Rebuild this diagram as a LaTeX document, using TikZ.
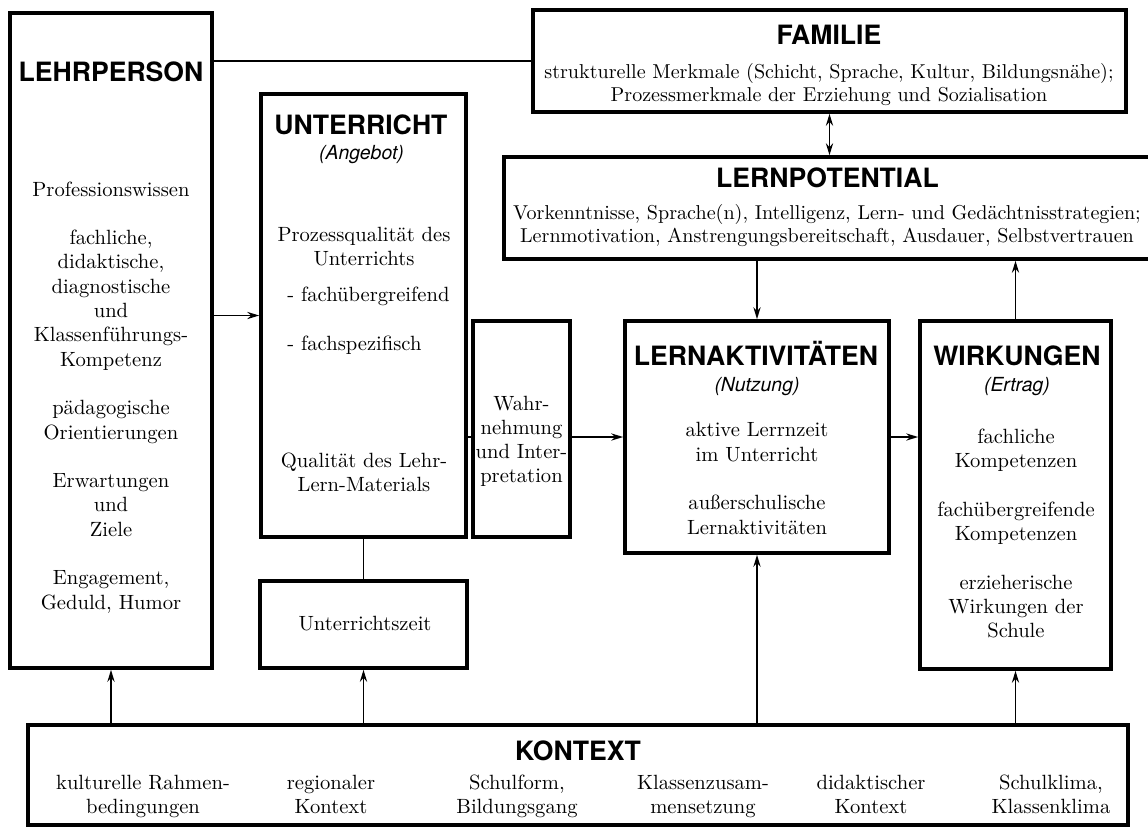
\documentclass[tikz,border=0pt]{standalone}
\usepackage{fontspec}
\newfontfamily\headfont{TeX Gyre Heros}
\usetikzlibrary{arrows.meta,positioning}

\tikzset{
  box/.style={draw, line width=1.8pt, inner sep=0pt},
  hd/.style={font=\headfont\bfseries\fontsize{13.3}{16}\selectfont, inner sep=0pt, anchor=base},
  subhd/.style={font=\headfont\itshape\fontsize{9.7}{12}\selectfont, inner sep=0pt},
  txt/.style={font=\fontsize{10.3}{12.15}\selectfont, align=center, inner sep=0pt,
    execute at begin node=\strut, execute at end node=\strut},
  widetxt/.style={txt, font=\fontsize{10.05}{11.9}\selectfont},
  conn/.style={line width=0.9pt},
}

\begin{document}
\begin{tikzpicture}[x=0.5pt, y=-0.5pt, >={Stealth[length=6pt,width=3.6pt,inset=2pt]}]
    \useasboundingbox (0,0) rectangle (1148,827);

    % boxes
    \node[box, minimum width=101pt, minimum height=327.5pt] (lehr) at (111,340.5) {};
    \node[box, minimum width=102.5pt, minimum height=221.5pt] (unt) at (363.5,315.5) {};
    \node[box, minimum width=48.5pt, minimum height=108pt] (wahr) at (521.5,429) {};
    \node[box, minimum width=103.5pt, minimum height=43.5pt] (uzeit) at (363.5,624.5) {};
    \node[box, minimum width=296.5pt, minimum height=51pt] (fam) at (829.5,61) {};
    \node[box, minimum width=325.5pt, minimum height=51pt] (pot) at (829.5,208) {};
    \node[box, minimum width=132pt, minimum height=116pt] (lakt) at (757,437) {};
    \node[box, minimum width=95.5pt, minimum height=174pt] (wirk) at (1015.5,495) {};
    \node[box, minimum width=550pt, minimum height=50pt] (kon) at (578,775) {};

    % Lehrperson
    \node[hd] (lehrT) at (111,81.5) {LEHRPERSON};
    \node[txt] (lehrB) at (111,399) {Professionswissen\\[12.15pt]
        fachliche,\\didaktische,\\diagnostische\\und\\Klassenführungs-\\Kompetenz\\[12.15pt]
        pädagogische\\Orientierungen\\[12.15pt]
        Erwartungen\\und\\Ziele\\[12.15pt]
        Engagement,\\Geduld, Humor};

    % Unterricht
    \node[hd] (untT) at (361,134.6) {UNTERRICHT};
    \node[subhd] (untS) at (361.5,155) {(Angebot)};
    \node[txt] (untB) at (364,250) {Prozessqualität des\\Unterrichts};
    \node[txt, anchor=base west] (untF1) at (287,301.5) {- fachübergreifend};
    \node[txt, anchor=base west] (untF2) at (287,350.5) {- fachspezifisch};
    \node[txt] (untQ) at (364,476) {Qualität des Lehr-\\Lern-Materials};
    \node[txt] (uzeitT) at (365,626) {Unterrichtszeit};
    \node[txt] (wahrT) at (521.5,443) {Wahr-\\nehmung\\und Inter-\\pretation};

    % Familie, Lernpotential
    \node[hd] (famT) at (829,44.6) {FAMILIE};
    \node[widetxt] (famB) at (829,86) {strukturelle Merkmale (Schicht, Sprache, Kultur, Bildungsnähe);\\
        Prozessmerkmale der Erziehung und Sozialisation};
    \node[hd] (potT) at (827.5,187.6) {LERNPOTENTIAL};
    \node[widetxt] (potB) at (827,227) {Vorkenntnisse, Sprache(n), Intelligenz, Lern- und Gedächtnisstrategien;\\
        Lernmotivation, Anstrengungsbereitschaft, Ausdauer, Selbstvertrauen};

    % Lernaktivitaeten, Wirkungen
    \node[hd] (laktT) at (756,365.6) {LERNAKTIVITÄTEN};
    \node[subhd] (laktS) at (757,387) {(Nutzung)};
    \node[txt] (laktB) at (757,482) {aktive Lerrnzeit\\im Unterricht\\[12.15pt]
        außerschulische\\Lernaktivitäten};
    \node[hd] (wirkT) at (1017,365.6) {WIRKUNGEN};
    \node[subhd] (wirkS) at (1017,387) {(Ertrag)};
    \node[txt] (wirkB) at (1016,537) {fachliche\\Kompetenzen\\[12.15pt]
        fachübergreifende\\Kompetenzen\\[12.15pt]
        erzieherische\\Wirkungen der\\Schule};

    % Kontext
    \node[hd] (konT) at (578,760) {KONTEXT};
    \node[txt] (kon1) at (143,798) {kulturelle Rahmen-\\bedingungen};
    \node[txt] (kon2) at (331,798) {regionaler\\Kontext};
    \node[txt] (kon3) at (517,798) {Schulform,\\Bildungsgang};
    \node[txt] (kon4) at (703,798) {Klassenzusam-\\mensetzung};
    \node[txt] (kon5) at (871,798) {didaktischer\\Kontext};
    \node[txt] (kon6) at (1051,798) {Schulklima,\\Klassenklima};

    % connectors
    \draw[conn] (lehr.east |- fam.west) -- (fam.west);
    \draw[conn,->] (lehr.east |- unt.west) -- (unt.west);
    \draw[conn] (unt.east |- lakt.west) -- (wahr.west |- lakt.west);
    \draw[conn,->] (wahr.east |- lakt.west) -- (lakt.west);
    \draw[conn,->] (lakt.east) -- (wirk.west |- lakt.east);
    \draw[conn,<->] (fam.south) -- (pot.north);
    \draw[conn,->] (pot.south -| lakt.north) -- (lakt.north);
    \draw[conn,->] (wirk.north) -- (wirk.north |- pot.south);
    \draw[conn] (unt.south) -- (uzeit.north);
    \foreach \n in {lehr,uzeit,lakt,wirk}
        \draw[conn,->] (kon.north -| \n.south) -- (\n.south);
\end{tikzpicture}
\end{document}
